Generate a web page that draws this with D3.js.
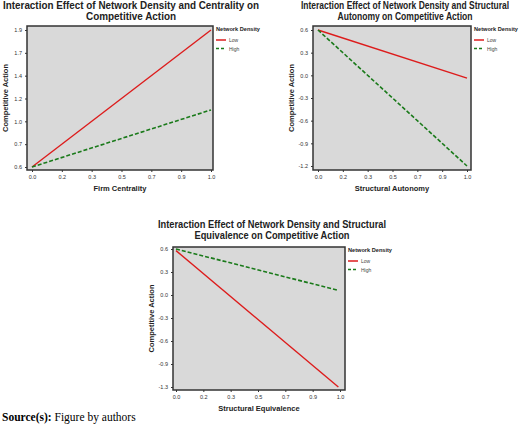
<!DOCTYPE html>
<html><head><meta charset="utf-8">
<script src="https://cdn.jsdelivr.net/npm/d3@7"></script>
<style>body{margin:0;background:#fff}</style></head>
<body><svg id="s" width="520" height="426"></svg>
<script>
const xTickLabels=["0.0","0.2","0.3","0.5","0.7","0.9","1.0"];
const y1TickLabels=["0.6","0.7","1.0","1.2","1.4","1.7","1.9"];
const y2TickLabels=["-1.2","-0.9","-0.6","-0.3","0.0","0.3","0.6"];
const y3TickLabels=["-1.3","-0.9","-0.6","-0.3","0.0","0.3","0.6"];
const seriesNames=["Low","High"];
const xVals=[0,1];
// values in tick-index units (0..6 bottom to top)
const c1Low=[0,6], c1High=[0,2.5];
const c2Low=[6,3.88], c2High=[6,0];
const c3Low=[5.93,0], c3High=[6,4.2];
const x3End=0.99;
const svg=d3.select("#s");
const font="Arial, 'Liberation Sans', sans-serif";
function chart(o){
  const g=svg.append("g");
  const x=d3.scaleLinear().domain([0,1]).range([o.x0,o.x1]);
  const y=d3.scaleLinear().domain([0,6]).range([o.yb,o.yt]);
  g.append("rect").attr("x",o.px0).attr("y",o.pt).attr("width",o.px1-o.px0).attr("height",o.pb-o.pt)
   .attr("fill","#d9d9d9").attr("stroke","#333").attr("stroke-width",1.5);
  const xa=g.append("g").attr("transform",`translate(0,${o.pb})`)
   .call(d3.axisBottom(x).tickValues(d3.range(7).map(i=>i/6)).tickSize(2).tickFormat((d,i)=>xTickLabels[i]));
  const ya=g.append("g").attr("transform",`translate(${o.px0},0)`)
   .call(d3.axisLeft(y).tickValues(d3.range(7)).tickSize(2).tickFormat((d,i)=>o.yl[i]));
  [xa,ya].forEach(a=>{a.select(".domain").remove();a.selectAll("text").attr("font-size",5.5).attr("font-family",font).attr("fill","#333");a.selectAll("line").attr("stroke","#333");});
  const line=d3.line().x(d=>x(d[0])).y(d=>y(d[1]));
  const cols=["#dd1c1c","#1a7a1a"];
  [o.low,o.high].forEach((s,i)=>{
    g.append("path").attr("d",line(s.map((v,j)=>[j===1&&o.xe?o.xe:xVals[j],v])))
     .attr("stroke",cols[i]).attr("stroke-width",i?1.6:1.4).attr("fill","none")
     .attr("stroke-dasharray",i?"4,2":null);
  });
  o.title.forEach((t,i)=>g.append("text").text(t).attr("x",o.tx).attr("y",o.ty+i*11).attr("text-anchor","middle")
    .attr("textLength",o.tw[i]).attr("lengthAdjust","spacingAndGlyphs")
    .attr("font-family",font).attr("font-weight","bold").attr("font-size",10).attr("fill","#222"));
  g.append("text").text(o.xt).attr("x",(o.px0+o.px1)/2).attr("y",o.pb+21).attr("text-anchor","middle")
   .attr("font-family",font).attr("font-weight","bold").attr("font-size",7.5).attr("fill","#222");
  g.append("text").text("Competitive Action").attr("transform",`translate(${o.px0-19},${(o.pt+o.pb)/2}) rotate(-90)`)
   .attr("text-anchor","middle").attr("font-family",font).attr("font-weight","bold").attr("font-size",7.5).attr("fill","#222");
  const lx=o.px1+3;
  g.append("text").text("Network Density").attr("x",lx).attr("y",o.pt+5).attr("font-family",font)
   .attr("textLength",44).attr("lengthAdjust","spacingAndGlyphs")
   .attr("font-weight","bold").attr("font-size",5.5).attr("fill","#222");
  seriesNames.forEach((n,i)=>{
    const yy=o.pt+14+i*8.5;
    g.append("line").attr("x1",lx).attr("x2",lx+10).attr("y1",yy).attr("y2",yy).attr("stroke",cols[i])
     .attr("stroke-width",1.5).attr("stroke-dasharray",i?"3,2":null);
    g.append("text").text(n).attr("x",lx+13).attr("y",yy+2).attr("font-family",font).attr("font-size",5).attr("fill","#444");
  });
}
chart({px0:27,px1:213,pt:26,pb:170,x0:32,x1:211,yt:30,yb:167,yl:y1TickLabels,low:c1Low,high:c1High,
  title:["Interaction Effect of Network Density and Centrality on","Competitive Action"],tw:[256,90],tx:131,ty:9,xt:"Firm Centrality"});
chart({px0:313,px1:471,pt:26,pb:170,x0:318,x1:467,yt:30,yb:166,yl:y2TickLabels,low:c2Low,high:c2High,
  title:["Interaction Effect of Network Density and Structural","Autonomy on Competitive Action"],tw:[208,135],tx:405,ty:9,xt:"Structural Autonomy"});
chart({px0:173,px1:345,pt:247,pb:390,x0:176,x1:340,yt:249,yb:387,yl:y3TickLabels,low:c3Low,high:c3High,xe:x3End,
  title:["Interaction Effect of Network Density and Structural","Equivalence on Competitive Action"],tw:[228,155],tx:272,ty:228,xt:"Structural Equivalence"});
const src=svg.append("text").attr("x",2).attr("y",421).attr("font-family","'Liberation Serif', Times, serif").attr("font-size",11.5);
src.append("tspan").attr("font-weight","bold").text("Source(s):");
src.append("tspan").text(" Figure by authors");
</script></body></html>
